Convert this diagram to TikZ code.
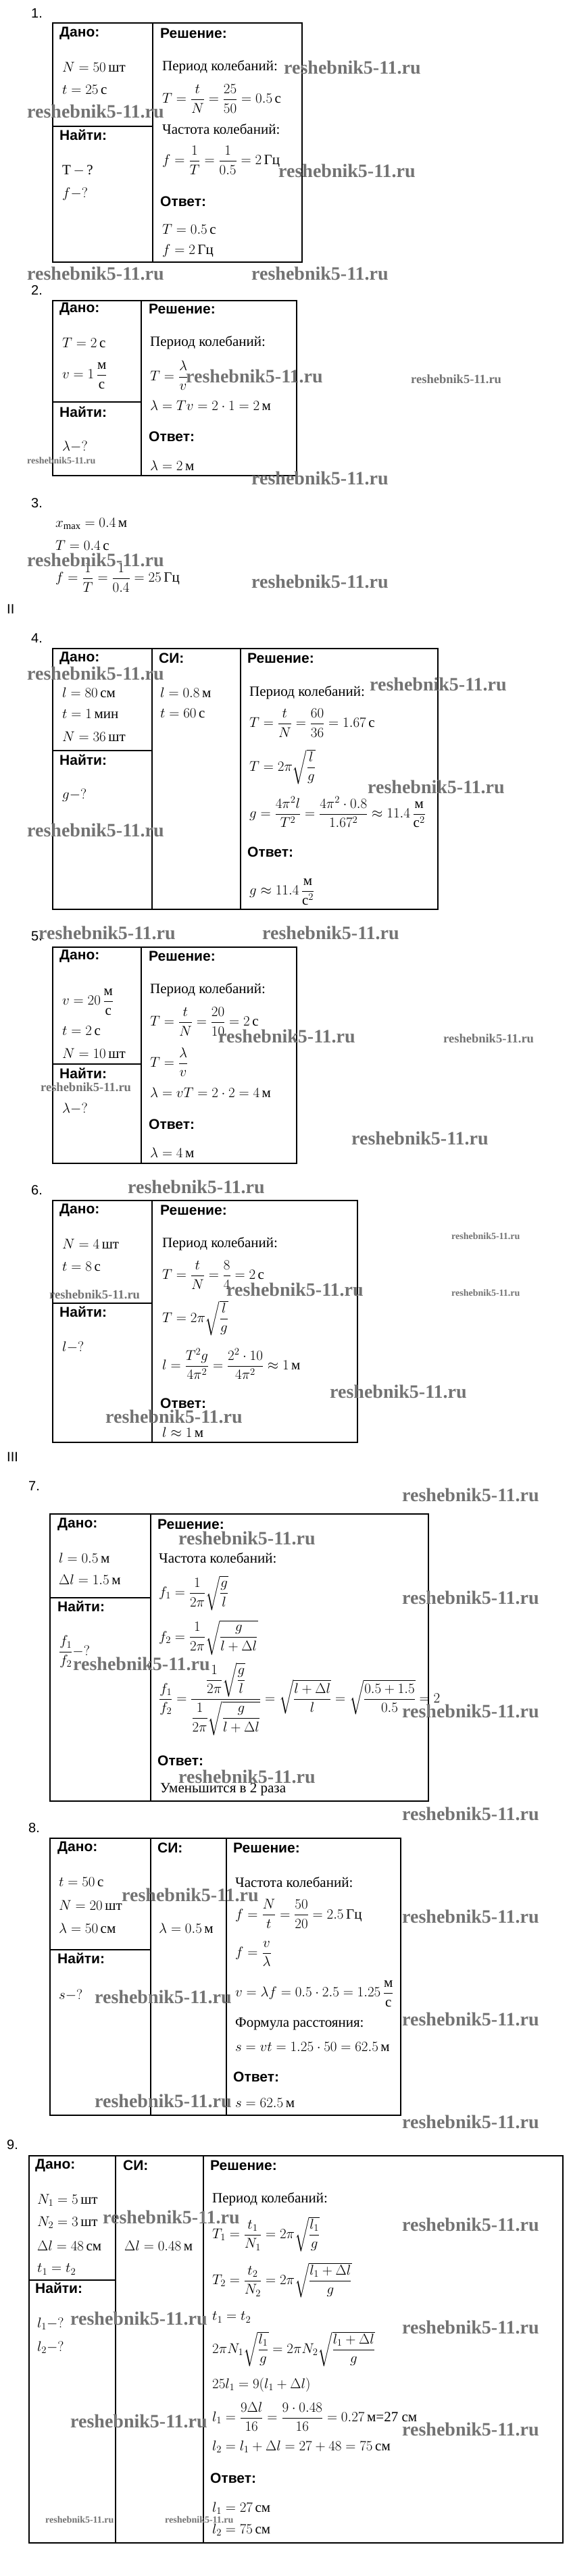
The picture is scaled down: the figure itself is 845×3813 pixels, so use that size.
\RequirePackage{fix-cm}
\documentclass[tikz,border=0pt]{standalone}
\usepackage{amsmath}
\usepackage{amssymb}
\usepackage{fontspec}
\setmainfont{Liberation Serif}
\newfontfamily\headsans{Liberation Sans}
\usepackage{tikz}

\newcommand\bodyfont{\fontsize{21}{25}\selectfont}
\newcommand\headfont{\headsans\bfseries\fontsize{21}{25}\selectfont}
\newcommand\numfont{\headsans\fontsize{20}{24}\selectfont}
\newcommand\wmfont{\bfseries\fontsize{28}{32}\selectfont}
\newcommand\wmmid{\bfseries\fontsize{18.5}{22}\selectfont}
\newcommand\wmsmall{\bfseries\fontsize{14}{17}\selectfont}
\newcommand\un[1]{\,\text{#1}}

\begin{document}
\begin{tikzpicture}[x=1pt,y=-1pt,
  hd/.style={anchor=west,inner sep=0pt,font=\headfont},
  tx/.style={anchor=west,inner sep=0pt,font=\bodyfont},
  num/.style={anchor=west,inner sep=0pt,font=\numfont},
  wm/.style={anchor=west,inner sep=0pt,text=black!55,font=\wmfont},
  wmm/.style={wm,font=\wmmid},
  wms/.style={wm,font=\wmsmall},
  box/.style={line width=1.2pt}]
\useasboundingbox[fill=white] (0,0) rectangle (845,3813);

% 1
\node[num] (num1) at (46,20) {1.};
\draw[box] (78,34) rectangle (447,388);
\draw[box] (226,34) -- (226,388);
\draw[box] (78,187) -- (226,187);
\node[hd] (dano1) at (88,49) {Дано:};
\node[tx] (d1a) at (92,99) {$N = 50\un{шт}$};
\node[tx] (d1b) at (92,133) {$t = 25\un{с}$};
\node[hd] (najti1) at (88,200) {Найти:};
\node[tx] (n1a) at (92,252) {Т$\,-\,$?};
\node[tx] (n1b) at (92,287) {$f - ?$};
\node[hd] (resh1) at (237,49) {Решение:};
\node[tx] (r1a) at (240,99) {Период колебаний:};
\node[tx] (r1b) at (240,146) {$T = \dfrac{t}{N} = \dfrac{25}{50} = 0.5\un{с}$};
\node[tx] (r1c) at (240,191) {Частота колебаний:};
\node[tx] (r1d) at (240,237) {$f = \dfrac{1}{T} = \dfrac{1}{0.5} = 2\un{Гц}$};
\node[hd] (otv1) at (237,298) {Ответ:};
\node[tx] (o1a) at (240,339) {$T = 0.5\un{с}$};
\node[tx] (o1b) at (240,371) {$f = 2\un{Гц}$};

% 2
\node[num] (num2) at (46,430) {2.};
\draw[box] (78,445) rectangle (439,704);
\draw[box] (209,445) -- (209,704);
\draw[box] (78,595) -- (209,595);
\node[hd] (dano2) at (88,457) {Дано:};
\node[tx] (d2a) at (92,507) {$T = 2\un{с}$};
\node[tx] (d2b) at (92,556) {$v = 1\,\dfrac{\text{м}}{\text{с}}$};
\node[hd] (najti2) at (88,610) {Найти:};
\node[tx] (n2a) at (92,661) {$\lambda - ?$};
\node[hd] (resh2) at (220,457) {Решение:};
\node[tx] (r2a) at (222,507) {Период колебаний:};
\node[tx] (r2b) at (222,556) {$T = \dfrac{\lambda}{v}$};
\node[tx] (r2c) at (222,600) {$\lambda = Tv = 2\cdot 1 = 2\un{м}$};
\node[hd] (otv2) at (220,646) {Ответ:};
\node[tx] (o2a) at (222,689) {$\lambda = 2\un{м}$};

% 3
\node[num] (num3) at (46,745) {3.};
\node[tx] (x3a) at (82,775) {$x_{\text{max}} = 0.4\un{м}$};
\node[tx] (x3b) at (82,807) {$T = 0.4\un{с}$};
\node[tx] (x3c) at (82,855) {$f = \dfrac{1}{T} = \dfrac{1}{0.4} = 25\un{Гц}$};
\node[num] (part2) at (10,902) {II};

% 4
\node[num] (num4) at (46,945) {4.};
\draw[box] (78,960) rectangle (648,1346);
\draw[box] (225,960) -- (225,1346);
\draw[box] (356,960) -- (356,1346);
\draw[box] (78,1111) -- (225,1111);
\node[hd] (dano4) at (88,974) {Дано:};
\node[tx] (d4a) at (92,1025) {$l = 80\un{см}$};
\node[tx] (d4b) at (92,1057) {$t = 1\un{мин}$};
\node[tx] (d4c) at (92,1090) {$N = 36\un{шт}$};
\node[hd] (najti4) at (88,1125) {Найти:};
\node[tx] (n4a) at (92,1177) {$g - ?$};
\node[hd] (si4) at (235,974) {СИ:};
\node[tx] (s4a) at (237,1025) {$l = 0.8\un{м}$};
\node[tx] (s4b) at (237,1056) {$t = 60\un{с}$};
\node[hd] (resh4) at (366,974) {Решение:};
\node[tx] (r4a) at (369,1025) {Период колебаний:};
\node[tx] (r4b) at (369,1070) {$T = \dfrac{t}{N} = \dfrac{60}{36} = 1.67\un{с}$};
\node[tx] (r4c) at (369,1135) {$T = 2\pi\sqrt{\dfrac{l}{g}}$};
\node[tx] (r4d) at (369,1202) {$g = \dfrac{4\pi^2 l}{T^2} = \dfrac{4\pi^2\cdot 0.8}{1.67^2} \approx 11.4\,\dfrac{\text{м}}{\text{с}^2}$};
\node[hd] (otv4) at (366,1261) {Ответ:};
\node[tx] (o4a) at (369,1320) {$g \approx 11.4\,\dfrac{\text{м}}{\text{с}^2}$};

% 5
\node[num] (num5) at (46,1386) {5.};
\draw[box] (78,1402) rectangle (439,1722);
\draw[box] (209,1402) -- (209,1722);
\draw[box] (78,1575) -- (209,1575);
\node[hd] (dano5) at (88,1415) {Дано:};
\node[tx] (d5a) at (92,1483) {$v = 20\,\dfrac{\text{м}}{\text{с}}$};
\node[tx] (d5b) at (92,1526) {$t = 2\un{с}$};
\node[tx] (d5c) at (92,1559) {$N = 10\un{шт}$};
\node[hd] (najti5) at (88,1589) {Найти:};
\node[tx] (n5a) at (92,1641) {$\lambda - ?$};
\node[hd] (resh5) at (220,1415) {Решение:};
\node[tx] (r5a) at (222,1465) {Период колебаний:};
\node[tx] (r5b) at (222,1512) {$T = \dfrac{t}{N} = \dfrac{20}{10} = 2\un{с}$};
\node[tx] (r5c) at (222,1572) {$T = \dfrac{\lambda}{v}$};
\node[tx] (r5d) at (222,1617) {$\lambda = vT = 2\cdot 2 = 4\un{м}$};
\node[hd] (otv5) at (220,1664) {Ответ:};
\node[tx] (o5a) at (222,1706) {$\lambda = 4\un{м}$};

% 6
\node[num] (num6) at (46,1762) {6.};
\draw[box] (78,1777) rectangle (529,2135);
\draw[box] (225,1777) -- (225,2135);
\draw[box] (78,1929) -- (225,1929);
\node[hd] (dano6) at (88,1791) {Дано:};
\node[tx] (d6a) at (92,1841) {$N = 4\un{шт}$};
\node[tx] (d6b) at (92,1875) {$t = 8\un{с}$};
\node[hd] (najti6) at (88,1942) {Найти:};
\node[tx] (n6a) at (92,1994) {$l - ?$};
\node[hd] (resh6) at (237,1791) {Решение:};
\node[tx] (r6a) at (240,1841) {Период колебаний:};
\node[tx] (r6b) at (240,1887) {$T = \dfrac{t}{N} = \dfrac{8}{4} = 2\un{с}$};
\node[tx] (r6c) at (240,1951) {$T = 2\pi\sqrt{\dfrac{l}{g}}$};
\node[tx] (r6d) at (240,2019) {$l = \dfrac{T^2 g}{4\pi^2} = \dfrac{2^2\cdot 10}{4\pi^2} \approx 1\un{м}$};
\node[hd] (otv6) at (237,2077) {Ответ:};
\node[tx] (o6a) at (240,2120) {$l \approx 1\un{м}$};
\node[num] (part3) at (10,2157) {III};

% 7
\node[num] (num7) at (42,2200) {7.};
\draw[box] (74,2241) rectangle (634,2666);
\draw[box] (223,2241) -- (223,2666);
\draw[box] (74,2365) -- (223,2365);
\node[hd] (dano7) at (85,2256) {Дано:};
\node[tx] (d7a) at (87,2306) {$l = 0.5\un{м}$};
\node[tx] (d7b) at (87,2338) {$\Delta l = 1.5\un{м}$};
\node[hd] (najti7) at (85,2378) {Найти:};
\node[tx] (n7a) at (87,2445) {$\dfrac{f_1}{f_2} - ?$};
\node[hd] (resh7) at (233,2256) {Решение:};
\node[tx] (r7a) at (235,2306) {Частота колебаний:};
\node[tx] (r7b) at (235,2358) {$f_1 = \dfrac{1}{2\pi}\sqrt{\dfrac{g}{l}}$};
\node[tx] (r7c) at (235,2424) {$f_2 = \dfrac{1}{2\pi}\sqrt{\dfrac{g}{l+\Delta l}}$};
\node[tx] (r7d) at (235,2515) {$\dfrac{f_1}{f_2} = \dfrac{\dfrac{1}{2\pi}\sqrt{\dfrac{g}{l}}}{\dfrac{1}{2\pi}\sqrt{\dfrac{g}{l+\Delta l}}} = \sqrt{\dfrac{l+\Delta l}{l}} = \sqrt{\dfrac{0.5+1.5}{0.5}} = 2$};
\node[hd] (otv7) at (233,2606) {Ответ:};
\node[tx] (o7a) at (237,2649) {Уменьшится в 2 раза};

% 8
\node[num] (num8) at (42,2706) {8.};
\draw[box] (74,2721) rectangle (593,3131);
\draw[box] (223,2721) -- (223,3131);
\draw[box] (335,2721) -- (335,3131);
\draw[box] (74,2886) -- (223,2886);
\node[hd] (dano8) at (85,2735) {Дано:};
\node[tx] (d8a) at (87,2786) {$t = 50\un{с}$};
\node[tx] (d8b) at (87,2820) {$N = 20\un{шт}$};
\node[tx] (d8c) at (87,2854) {$\lambda = 50\un{см}$};
\node[hd] (najti8) at (85,2899) {Найти:};
\node[tx] (n8a) at (87,2953) {$s - ?$};
\node[hd] (si8) at (233,2735) {СИ:};
\node[tx] (s8a) at (235,2854) {$\lambda = 0.5\un{м}$};
\node[hd] (resh8) at (345,2735) {Решение:};
\node[tx] (r8a) at (348,2786) {Частота колебаний:};
\node[tx] (r8b) at (348,2833) {$f = \dfrac{N}{t} = \dfrac{50}{20} = 2.5\un{Гц}$};
\node[tx] (r8c) at (348,2892) {$f = \dfrac{v}{\lambda}$};
\node[tx] (r8d) at (348,2951) {$v = \lambda f = 0.5\cdot 2.5 = 1.25\,\dfrac{\text{м}}{\text{с}}$};
\node[tx] (r8e) at (348,2996) {Формула расстояния:};
\node[tx] (r8f) at (348,3030) {$s = vt = 1.25\cdot 50 = 62.5\un{м}$};
\node[hd] (otv8) at (345,3074) {Ответ:};
\node[tx] (o8a) at (348,3113) {$s = 62.5\un{м}$};

% 9
\node[num] (num9) at (10,3175) {9.};
\draw[box] (43,3191) rectangle (833,3764);
\draw[box] (171,3191) -- (171,3764);
\draw[box] (301,3191) -- (301,3764);
\draw[box] (43,3375) -- (171,3375);
\node[hd] (dano9) at (52,3205) {Дано:};
\node[tx] (d9a) at (55,3257) {$N_1 = 5\un{шт}$};
\node[tx] (d9b) at (55,3290) {$N_2 = 3\un{шт}$};
\node[tx] (d9c) at (55,3324) {$\Delta l = 48\un{см}$};
\node[tx] (d9d) at (55,3359) {$t_1 = t_2$};
\node[hd] (najti9) at (52,3387) {Найти:};
\node[tx] (n9a) at (55,3440) {$l_1 - ?$};
\node[tx] (n9b) at (55,3475) {$l_2 - ?$};
\node[hd] (si9) at (182,3205) {СИ:};
\node[tx] (s9a) at (184,3324) {$\Delta l = 0.48\un{м}$};
\node[hd] (resh9) at (311,3205) {Решение:};
\node[tx] (r9a) at (314,3255) {Период колебаний:};
\node[tx] (r9b) at (314,3307) {$T_1 = \dfrac{t_1}{N_1} = 2\pi\sqrt{\dfrac{l_1}{g}}$};
\node[tx] (r9c) at (314,3375) {$T_2 = \dfrac{t_2}{N_2} = 2\pi\sqrt{\dfrac{l_1+\Delta l}{g}}$};
\node[tx] (r9d) at (314,3430) {$t_1 = t_2$};
\node[tx] (r9e) at (314,3477) {$2\pi N_1\sqrt{\dfrac{l_1}{g}} = 2\pi N_2\sqrt{\dfrac{l_1+\Delta l}{g}}$};
\node[tx] (r9f) at (314,3530) {$25 l_1 = 9(l_1 + \Delta l)$};
\node[tx] (r9g) at (314,3577) {$l_1 = \dfrac{9\Delta l}{16} = \dfrac{9\cdot 0.48}{16} = 0.27\un{м=27 см}$};
\node[tx] (r9h) at (314,3622) {$l_2 = l_1 + \Delta l = 27 + 48 = 75\un{см}$};
\node[hd] (otv9) at (311,3668) {Ответ:};
\node[tx] (o9a) at (314,3713) {$l_1 = 27\un{см}$};
\node[tx] (o9b) at (314,3745) {$l_2 = 75\un{см}$};

% watermarks
\foreach \x/\y [count=\i] in {40/165,420/100,412/253,40/405,372/405,275/557,372/708,
  40/829,372/861,40/997,547/1013,544/1165,40/1229,57/1381,388/1381,323/1534,520/1685,
  189/1757,335/1909,488/2060,156/2097,595/2213,264/2277,595/2365,108/2463,595/2533,
  264/2630,595/2685,180/2805,595/2837,140/2956,595/2989,140/3110,595/3141,152/3282,
  595/3293,104/3432,595/3445,104/3584,595/3596}
  \node[wm] (wm\i) at (\x,\y) {reshebnik5-11.ru};
\foreach \x/\y [count=\i] in {608/561,656/1537,60/1609,73/1916}
  \node[wmm] (wmm\i) at (\x,\y) {reshebnik5-11.ru};
\foreach \x/\y [count=\i] in {40/682,668/1830,668/1914,67/3730,244/3730}
  \node[wms] (wms\i) at (\x,\y) {reshebnik5-11.ru};
\end{tikzpicture}
\end{document}
